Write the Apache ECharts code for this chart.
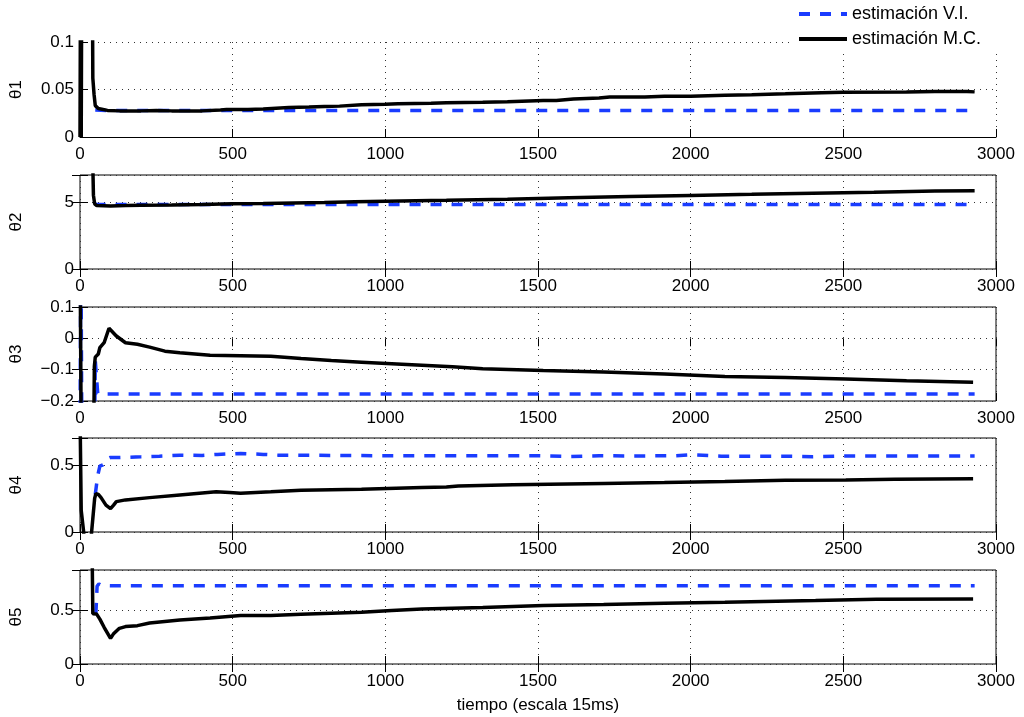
<!DOCTYPE html>
<html><head><meta charset="utf-8">
<script src="https://cdn.jsdelivr.net/npm/echarts@6/dist/echarts.min.js"></script>
<style>html,body{margin:0;padding:0;background:#fff}#c{width:1024px;height:717px}</style>
</head><body><div id="c"></div>
<script>
// ---- data ----
const xTicks = [0, 500, 1000, 1500, 2000, 2500, 3000];
const yNames = ['θ1', 'θ2', 'θ3', 'θ4', 'θ5'];
const yTicks1 = [0, 0.05, 0.1];
const yTicks2 = [0, 5];
const yTicks3 = [-0.2, -0.1, 0, 0.1];
const yTicks4 = [0, 0.5];
const yTicks5 = [0, 0.5];
const yRange1 = [0, 0.1];
const yRange2 = [0, 7];
const yRange3 = [-0.2, 0.1];
const yRange4 = [0, 0.7];
const yRange5 = [0, 0.88];
const legendNames = ['estimación V.I.', 'estimación M.C.'];
const xTitle = 'tiempo (escala 15ms)';

const vi1 = [[50,0.0285],[100,0.0278],[2930,0.0278]];
const mc1 = [[0,0],[2,0.2],[4,0],[6,0.2],[40,0.2],[42,0.062],[46,0.045],[50,0.033],[60,0.030],[90,0.028],[130,0.0275],[200,0.0275],[250,0.028],[300,0.0275],[400,0.0275],[460,0.0285],[480,0.029],[550,0.029],[600,0.0295],[684,0.031],[750,0.0315],[800,0.032],[850,0.0325],[922,0.034],[1000,0.0345],[1041,0.035],[1150,0.0355],[1200,0.036],[1319,0.0365],[1400,0.037],[1517,0.0385],[1560,0.0385],[1616,0.040],[1700,0.041],[1735,0.042],[1850,0.042],[1914,0.043],[2000,0.043],[2112,0.044],[2200,0.0445],[2310,0.0455],[2429,0.0467],[2500,0.047],[2707,0.0474],[2800,0.0478],[2905,0.048],[2930,0.0475]];

const vi2 = [[48,4.85],[55,4.8],[2930,4.8]];
const mc2 = [[0,10],[40,10],[44,5.5],[48,4.85],[55,4.72],[100,4.7],[150,4.72],[200,4.75],[300,4.76],[400,4.8],[500,4.85],[600,4.88],[700,4.92],[800,4.95],[900,5.0],[1000,5.05],[1200,5.12],[1400,5.2],[1500,5.25],[1600,5.3],[1800,5.4],[2000,5.48],[2200,5.56],[2400,5.65],[2600,5.72],[2800,5.8],[2930,5.83]];

const vi3 = [[0,-0.3],[3,0.3],[6,-0.3],[48,-0.3],[50,-0.07],[58,-0.175],[65,-0.178],[2930,-0.178]];
const mc3 = [[0,0.3],[4,-0.3],[45,-0.3],[47,-0.09],[50,-0.06],[54,-0.057],[60,-0.05],[65,-0.03],[79,-0.014],[95,0.032],[119,0.0075],[149,-0.014],[188,-0.019],[228,-0.028],[278,-0.041],[327,-0.046],[426,-0.054],[625,-0.057],[724,-0.0645],[823,-0.071],[922,-0.076],[1021,-0.081],[1120,-0.086],[1220,-0.091],[1319,-0.097],[1517,-0.103],[1715,-0.1075],[1914,-0.114],[2112,-0.1215],[2310,-0.125],[2508,-0.13],[2707,-0.1355],[2925,-0.14]];

const vi4 = [[50,0.28],[58,0.42],[65,0.49],[75,0.5],[85,0.54],[100,0.555],[130,0.555],[200,0.56],[260,0.565],[327,0.572],[400,0.57],[450,0.578],[526,0.585],[600,0.578],[650,0.572],[700,0.572],[1000,0.568],[1500,0.568],[1600,0.562],[1700,0.568],[1800,0.566],[1950,0.568],[2000,0.575],[2100,0.565],[2300,0.565],[2400,0.56],[2500,0.566],[2930,0.566]];
const mc4 = [[0,0.9],[4,0.16],[12,0],[14,-0.1],[35,-0.1],[38,0],[48,0.25],[52,0.286],[60,0.28],[69,0.256],[85,0.2],[100,0.174],[110,0.2],[119,0.226],[149,0.239],[228,0.256],[327,0.276],[446,0.299],[490,0.295],[526,0.289],[625,0.299],[724,0.311],[922,0.318],[1120,0.331],[1200,0.335],[1239,0.343],[1418,0.351],[1715,0.361],[1914,0.368],[2013,0.373],[2112,0.376],[2310,0.386],[2508,0.388],[2667,0.393],[2925,0.396]];

const vi5 = [[52,0.47],[56,0.73],[62,0.75],[70,0.735],[100,0.733],[2930,0.733]];
const mc5 = [[0,1.5],[38,1.5],[42,0.47],[45,0.459],[54,0.469],[65,0.42],[79,0.344],[100,0.24],[109,0.28],[129,0.334],[149,0.35],[188,0.359],[228,0.384],[327,0.4125],[426,0.431],[526,0.453],[625,0.453],[724,0.466],[922,0.484],[1021,0.5],[1120,0.516],[1319,0.528],[1517,0.547],[1715,0.556],[1914,0.569],[2112,0.578],[2409,0.594],[2608,0.606],[2925,0.609]];

// ---- build ----
const VI = [vi1, vi2, vi3, vi4, vi5];
const MC = [mc1, mc2, mc3, mc4, mc5];
const YT = [yTicks1, yTicks2, yTicks3, yTicks4, yTicks5];
const YR = [yRange1, yRange2, yRange3, yRange4, yRange5];
const YI = [0.05, 5, 0.1, 0.5, 0.5];
const tops = [42, 175, 307, 438, 570];
const heights = [95, 94, 94, 94, 94];
const FONT = "'Liberation Sans', Arial, Helvetica, sans-serif";
const BLUE = '#1a3cff';
const dotted = { type: [1, 5], color: '#333', width: 1 };

const grids = [], xAxes = [], yAxes = [], series = [];
for (let i = 0; i < 5; i++) {
  grids.push({ left: 78, width: 918, top: tops[i], height: heights[i],
    show: i > 0, borderColor: '#000', borderWidth: 1, backgroundColor: 'transparent' });
  const ticks = YT[i];
  xAxes.push({ type: 'value', gridIndex: i, min: 0, max: 3000, interval: 500, position: 'bottom',
    axisLine: { show: i === 0, onZero: false, lineStyle: { color: '#000', width: 1 } },
    axisTick: { show: true, inside: true, length: 8, lineStyle: { color: '#000' } },
    axisLabel: { color: '#000', fontSize: 17, fontFamily: FONT, margin: 9,
      formatter: v => xTicks.includes(v) ? String(v) : '' },
    splitLine: { show: true, lineStyle: dotted },
    name: i === 4 ? xTitle : '', nameLocation: 'middle', nameGap: 33,
    nameTextStyle: { color: '#000', fontSize: 17, fontFamily: FONT } });
  yAxes.push({ type: 'value', gridIndex: i, min: YR[i][0], max: YR[i][1], interval: YI[i], position: 'left',
    axisLine: { show: i === 0, onZero: false, lineStyle: { color: '#000', width: 1 } },
    axisTick: { show: true, inside: true, length: 8, lineStyle: { color: '#000' } },
    axisLabel: { color: '#000', fontSize: 17, fontFamily: FONT, margin: 6,
      formatter: v => { const t = ticks.find(k => Math.abs(k - v) < 1e-9); return t === undefined ? '' : String(t).replace('-', '\u2212'); } },
    splitLine: { show: true, lineStyle: dotted },
    name: yNames[i], nameLocation: 'middle', nameGap: 55, nameRotate: 90,
    nameTextStyle: { color: '#000', fontSize: 17, fontFamily: FONT } });
}
for (let i = 1; i < 5; i++) {
  xAxes.push({ type: 'value', gridIndex: i, min: 0, max: 3000, interval: 500, position: 'top',
    axisLine: { show: false }, axisLabel: { show: false }, splitLine: { show: false },
    axisTick: { show: true, inside: true, length: 8, lineStyle: { color: '#000' } } });
  yAxes.push({ type: 'value', gridIndex: i, min: YR[i][0], max: YR[i][1], interval: YI[i], position: 'right',
    axisLine: { show: false }, axisLabel: { show: false }, splitLine: { show: false },
    axisTick: { show: true, inside: true, length: 8, lineStyle: { color: '#000' } } });
}
for (let i = 0; i < 5; i++) {
  series.push({ name: legendNames[0], type: 'line', xAxisIndex: i, yAxisIndex: i, data: VI[i],
    showSymbol: false, symbol: 'none', clip: true, z: 2,
    lineStyle: { color: BLUE, width: 3.5, type: [11, 10] }, itemStyle: { color: BLUE } });
  series.push({ name: legendNames[1], type: 'line', xAxisIndex: i, yAxisIndex: i, data: MC[i],
    showSymbol: false, symbol: 'none', clip: true, z: 3,
    lineStyle: { color: '#000', width: 3.5 }, itemStyle: { color: '#000' } });
}

const chart = echarts.init(document.getElementById('c'), null, { renderer: 'canvas' });
chart.setOption({
  animation: false,
  backgroundColor: '#fff',
  grid: grids, xAxis: xAxes, yAxis: yAxes, series: series,
  legend: { data: legendNames, orient: 'vertical', left: 792, top: 2, itemWidth: 48, itemHeight: 14, itemGap: 7,
    backgroundColor: '#fff', padding: [3, 40, 3, 5],
    itemStyle: { opacity: 0 },
    lineStyle: { width: 4 },
    textStyle: { color: '#000', fontSize: 18, fontFamily: FONT } }
});
</script></body></html>
